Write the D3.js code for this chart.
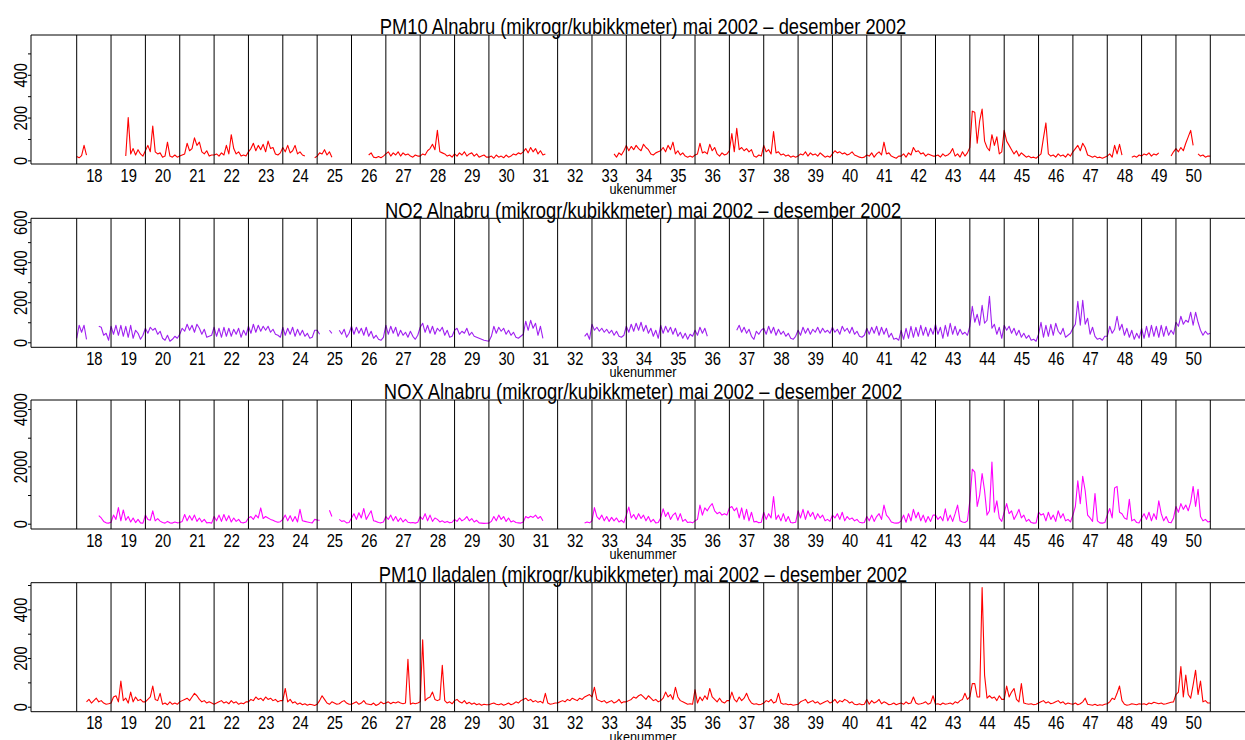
<!DOCTYPE html>
<html>
<head>
<meta charset="utf-8">
<script src="https://cdn.jsdelivr.net/npm/d3@7/dist/d3.min.js"></script>
<style>
  html, body { margin: 0; padding: 0; background: #fff; }
  svg { display: block; }
  text { font-family: "Liberation Sans", Arial, sans-serif; fill: #000; }
</style>
</head>
<body>
<svg id="chart" width="1245" height="740"></svg>
<script>
const _ = null;

// ---- data (two readings per day, 14 per week, starting at week 18) ----
const weekLabels = [18,19,20,21,22,23,24,25,26,27,28,29,30,31,32,33,34,35,36,37,38,39,40,41,42,43,44,45,46,47,48,49,50];
const weekLines = [18,19,20,21,22,23,24,25,26,27,28,29,30,31,32,33,34,35,36,37,38,39,40,41,42,43,44,45,46,47,48,49,50,51];

const titles = [
  "PM10 Alnabru (mikrogr/kubikkmeter) mai 2002 \u2013 desember 2002",
  "NO2 Alnabru (mikrogr/kubikkmeter) mai 2002 \u2013 desember 2002",
  "NOX Alnabru (mikrogr/kubikkmeter) mai 2002 \u2013 desember 2002",
  "PM10 Iladalen (mikrogr/kubikkmeter) mai 2002 \u2013 desember 2002"
];
const xTitle = "ukenummer";

const pm10Ticks = [0,100,200,300,400,500];
const pm10Labels = [0,200,400];
const no2Ticks = [0,100,200,300,400,500,600];
const no2Labels = [0,200,400,600];
const noxTicks = [0,1000,2000,3000,4000];
const noxLabels = [0,2000,4000];

const pm10Alnabru = [
  18,12,22,70,25,_,_,_,_,_,_,_,_,_,          // 18
  _,_,_,_,_,_,20,200,30,55,25,50,30,20,      // 19
  45,70,40,160,40,30,35,15,20,85,20,15,25,15,// 20
  20,25,30,80,45,55,105,70,85,40,30,45,20,25,// 21
  25,30,20,35,25,70,30,120,55,30,40,20,25,20,// 22
  40,55,80,45,70,50,75,40,90,55,60,30,25,35, // 23
  60,40,70,35,45,70,30,40,25,20,_,_,_,12,    // 24
  20,35,30,50,25,40,15,_,_,_,_,_,_,_,        // 25
  _,_,_,_,_,_,_,25,35,15,12,18,12,20,        // 26
  30,40,20,35,25,40,20,35,25,30,20,15,25,20, // 27
  20,30,25,45,55,75,50,140,40,35,30,20,25,15,// 28
  30,20,35,25,40,20,30,35,20,30,15,20,25,15, // 29
  15,20,10,25,15,20,12,25,15,20,30,25,35,30, // 30
  40,55,35,60,40,55,30,45,25,30,_,_,_,_,     // 31
  _,_,_,_,_,_,_,_,_,_,_,_,_,_,               // 32
  _,_,_,_,_,_,_,_,_,30,15,35,25,45,          // 33
  70,45,65,50,70,55,45,75,60,50,30,25,35,40, // 34
  45,60,40,70,50,85,30,45,25,35,20,15,20,15, // 35
  25,30,80,35,40,30,75,45,60,30,20,35,25,30, // 36
  45,125,40,150,50,60,45,55,40,50,20,15,25,20,// 37
  70,40,50,30,135,35,40,25,30,20,25,15,20,15,// 38
  20,30,25,40,20,35,25,30,20,35,25,15,20,15, // 39
  30,45,35,40,30,35,25,30,40,25,20,15,12,15, // 40
  25,20,35,15,30,40,25,85,30,35,20,15,10,20, // 41
  20,30,15,35,25,60,40,45,30,35,20,30,25,20, // 42
  20,25,15,30,20,25,35,55,20,30,15,40,20,35, // 43
  60,230,225,80,185,240,90,60,45,120,70,110,30,40, // 44
  140,90,70,50,30,45,20,35,25,15,20,12,15,10,// 45
  20,30,105,175,30,20,25,15,30,20,25,15,30,20,// 46
  40,55,70,45,80,60,25,20,15,20,12,15,10,15, // 47
  20,30,15,70,30,75,25,_,_,_,15,20,15,25,    // 48
  20,30,25,35,20,30,25,35,_,_,_,_,20,40,     // 49
  55,40,60,45,80,110,140,70,_,30,20,25,15,20,// 50
  20
];

const no2Alnabru = [
  20,85,50,85,15,_,_,_,_,80,75,35,45,10,     // 18
  80,40,85,35,85,30,80,25,85,20,60,45,15,35, // 19
  70,45,75,60,70,40,55,20,10,35,5,15,30,20,  // 20
  40,70,55,90,60,85,50,90,70,40,65,25,30,35, // 21
  75,30,70,25,75,30,70,30,65,40,70,25,60,35, // 22
  80,45,90,50,85,55,80,60,80,50,65,40,35,25, // 23
  75,35,70,40,75,30,65,35,60,30,45,20,25,60, // 24
  60,40,_,_,_,60,45,_,_,60,40,65,25,45,      // 25
  80,40,75,45,70,35,75,30,55,20,35,15,10,25, // 26
  85,40,80,45,75,30,60,35,50,25,55,30,15,35, // 27
  75,95,50,85,45,80,40,70,55,75,35,60,25,30, // 28
  60,70,40,55,45,70,35,50,30,25,20,15,10,8,  // 29
  5,30,80,45,75,55,70,40,60,35,50,25,20,30,  // 30
  40,105,60,110,70,95,35,80,20,_,_,_,_,_,    // 31
  _,_,_,_,_,_,_,_,_,_,_,30,45,15,            // 32
  90,60,75,55,70,50,65,45,60,35,55,30,25,35, // 33
  80,50,90,55,95,60,100,55,85,45,70,30,60,20,// 34
  85,45,80,50,75,40,70,30,50,20,45,15,40,30, // 35
  60,35,75,45,70,30,_,_,_,_,_,_,_,_,         // 36
  _,_,_,60,85,50,75,45,65,30,15,55,40,60,    // 37
  70,40,80,45,75,35,65,40,55,30,45,20,15,30, // 38
  60,35,75,45,70,40,65,50,75,45,70,50,60,45, // 39
  75,50,65,40,80,55,70,45,75,40,55,30,25,35, // 40
  70,40,75,45,80,35,75,40,70,25,45,15,20,10, // 41
  60,15,70,20,80,25,75,30,85,35,75,30,70,40, // 42
  90,40,75,20,85,30,95,40,80,35,65,40,50,35, // 43
  80,180,100,140,85,185,95,110,230,70,90,40,75,20, // 44
  85,60,80,45,70,35,60,25,45,20,35,10,15,5,  // 45
  40,100,25,85,30,90,35,95,55,40,70,25,35,45,// 46
  70,90,205,85,210,90,120,40,75,30,15,20,10,30, // 47
  30,80,45,65,130,60,90,35,70,25,60,15,45,20,// 48
  70,20,80,25,85,30,80,25,85,30,80,35,60,40, // 49
  100,80,130,90,110,100,150,85,150,100,60,35,55,40, // 50
  45
];

const noxAlnabru = [
  _,_,_,_,_,_,_,_,_,280,200,80,30,20,                      // 18
  50,300,150,560,100,480,120,250,60,200,40,150,30,20,      // 19
  300,150,120,450,100,180,90,40,20,80,30,20,60,30,         // 20
  40,80,320,100,280,120,300,80,200,60,150,30,40,20,        // 21
  250,100,300,80,320,100,280,60,200,80,150,40,30,60,       // 22
  200,250,150,300,200,550,180,250,200,150,120,80,50,70,    // 23
  150,300,100,280,80,250,60,500,100,80,60,40,30,150,       // 24
  130,120,_,_,_,470,250,_,_,150,80,100,30,40,              // 25
  200,350,150,380,200,530,150,300,450,100,80,40,30,60,     // 26
  250,150,300,100,250,80,200,60,150,50,30,40,20,50,        // 27
  250,150,350,100,300,80,200,150,60,100,40,80,30,50,       // 28
  150,80,200,100,150,250,100,180,60,120,30,20,10,15,       // 29
  20,80,250,100,300,150,250,80,200,60,100,40,30,20,        // 30
  60,250,200,260,220,300,180,250,100,_,_,_,_,_,            // 31
  _,_,_,_,_,_,_,_,_,_,_,20,60,30,                          // 32
  100,560,250,150,300,100,250,80,220,100,200,60,120,40,    // 33
  300,580,200,320,150,350,180,300,100,250,60,150,30,40,    // 34
  200,520,250,400,150,300,380,120,350,80,150,40,60,30,     // 35
  100,150,650,300,550,450,600,700,450,350,400,300,350,300, // 36
  550,600,450,550,200,550,150,500,100,400,60,80,30,50,     // 37
  400,150,350,200,950,150,300,100,350,80,250,40,30,50,     // 38
  450,200,500,150,450,250,400,150,350,200,300,100,150,80,  // 39
  300,200,350,150,400,100,250,150,200,100,150,50,30,40,    // 40
  250,100,300,80,250,350,150,650,300,200,60,30,20,30,      // 41
  100,300,50,350,100,500,200,400,100,300,50,250,80,300,    // 42
  300,150,250,100,520,100,300,80,350,650,100,60,40,100,    // 43
  800,1900,1800,600,1000,1750,1150,300,450,2150,400,800,200,80, // 44
  400,700,350,450,150,300,500,200,300,80,150,40,20,30,     // 45
  400,300,350,100,400,150,300,80,450,200,350,100,150,60,   // 46
  300,600,1500,700,1650,1150,300,200,80,1050,100,30,20,40, // 47
  300,530,200,1250,1300,400,350,200,150,850,100,150,40,30, // 48
  200,350,150,400,100,350,150,800,350,100,250,50,30,200,   // 49
  600,400,700,500,650,450,750,1300,600,1200,250,100,150,60,// 50
  80
];

const pm10Iladalen = [
  _,_,_,_,20,30,15,25,35,20,25,15,10,12,     // 18
  15,40,45,20,105,25,35,15,60,20,40,25,30,20,// 19
  20,30,40,85,30,25,55,10,15,8,20,10,15,10,  // 20
  20,25,30,35,25,40,55,45,30,20,25,15,20,15, // 21
  10,15,20,25,15,20,12,25,15,20,10,15,12,20, // 22
  20,30,25,40,30,35,25,40,30,35,25,30,20,25, // 23
  25,75,20,30,15,20,10,15,8,12,6,10,8,5,     // 24
  10,25,45,30,15,10,20,15,10,12,20,25,15,10, // 25
  10,15,20,10,15,25,12,10,8,15,5,10,20,12,   // 26
  15,20,12,18,15,20,15,12,15,195,10,15,12,15,// 27
  20,275,25,35,40,60,30,25,30,170,25,15,20,12,// 28
  25,30,20,15,25,12,18,10,15,8,12,6,10,8,    // 29
  8,12,15,10,8,12,6,10,15,8,12,20,15,25,     // 30
  30,35,25,30,20,25,18,22,15,55,15,10,12,15, // 31
  15,20,25,20,30,25,35,30,25,35,30,40,45,50, // 32
  40,80,30,25,20,25,15,20,25,15,20,30,15,20, // 33
  20,25,30,40,35,45,50,40,30,45,35,25,30,20, // 34
  25,35,60,40,50,30,80,40,25,20,15,10,12,10, // 35
  70,15,40,25,45,30,75,40,30,20,35,20,15,25, // 36
  25,60,30,20,40,25,35,55,30,15,10,12,8,10,  // 37
  15,25,20,30,15,20,55,15,10,12,8,10,6,8,    // 38
  10,20,25,30,15,20,25,15,20,10,15,20,25,15, // 39
  20,30,15,25,20,30,25,15,20,10,8,12,8,10,   // 40
  30,10,25,15,20,30,12,20,15,8,10,15,8,12,   // 41
  15,10,20,12,15,40,15,10,12,15,20,10,15,45, // 42
  10,12,8,15,10,12,15,10,20,15,25,30,55,30,  // 43
  40,95,95,40,40,490,130,35,45,35,40,25,45,30, // 44
  30,85,40,60,75,30,20,95,15,12,10,12,8,10,  // 45
  15,20,25,15,20,12,15,20,25,15,20,10,15,12, // 46
  10,15,8,12,20,35,10,8,6,10,5,8,6,10,       // 47
  12,20,35,30,55,85,25,10,6,8,12,10,8,12,    // 48
  10,12,8,15,12,18,15,12,15,10,12,15,18,20,  // 49
  50,60,165,40,130,50,35,90,150,50,105,20,25,15, // 50
  15
];

// ---- layout ----
const W = 1245, H = 740;
const left = 31, right = 1256;
const narrow = 0.82;   // horizontal squeeze to imitate a narrow Helvetica
const panels = [
  { title: titles[0], values: pm10Alnabru, color: "#ff0000", top: 35,    yDomain: [-17, 586],   ticks: pm10Ticks, labels: pm10Labels },
  { title: titles[1], values: no2Alnabru,  color: "#a020f0", top: 218.3, yDomain: [-25, 619],   ticks: no2Ticks,  labels: no2Labels },
  { title: titles[2], values: noxAlnabru,  color: "#ff00ff", top: 400,   yDomain: [-185, 4315], ticks: noxTicks,  labels: noxLabels },
  { title: titles[3], values: pm10Iladalen,color: "#ff0000", top: 582.7, yDomain: [-20.5, 509.5], ticks: pm10Ticks, labels: pm10Labels }
];
const panelH = 129;
const stepsPerWeek = 14;
const firstWeek = 18;

const svg = d3.select("#chart");
svg.append("rect").attr("width", W).attr("height", H).attr("fill", "#fff");

const x = d3.scaleLinear().domain([16.67, 52.33]).range([left, right]);
const centerX = 643;

panels.forEach(p => {
  const top = p.top, bottom = top + panelH;
  const y = d3.scaleLinear().domain(p.yDomain).range([bottom, top]);
  const g = svg.append("g");

  const pts = p.values.map((v, i) => ({ t: firstWeek + i / stepsPerWeek, v }));

  // data line
  g.append("path")
    .datum(pts)
    .attr("fill", "none")
    .attr("stroke", p.color)
    .attr("stroke-width", 1.1)
    .attr("stroke-linejoin", "round")
    .attr("d", d3.line().defined(d => d.v !== null).x(d => x(d.t)).y(d => y(d.v)));

  // week separator lines
  g.selectAll("line.week").data(weekLines).enter().append("line")
    .attr("class", "week")
    .attr("x1", d => x(d)).attr("x2", d => x(d))
    .attr("y1", top).attr("y2", bottom)
    .attr("stroke", "#000").attr("stroke-width", 1);

  // box (open to the right, beyond the window)
  g.append("path")
    .attr("d", `M${right},${top}H${left}V${bottom}H${right}`)
    .attr("fill", "none").attr("stroke", "#000").attr("stroke-width", 1);

  // y axis
  const ya = g.append("g").attr("transform", `translate(${left},0)`)
    .call(d3.axisLeft(y).tickValues(p.ticks).tickSize(3)
      .tickFormat(d => p.labels.includes(d) ? String(d) : ""));
  ya.select(".domain").remove();
  ya.selectAll(".tick line").attr("stroke", "#000");
  ya.selectAll(".tick text")
    .attr("x", null).attr("dy", null)
    .attr("text-anchor", "middle")
    .attr("transform", `translate(-4,0) rotate(-90) scale(${narrow},1)`)
    .style("font-size", "18px")
    .style("font-family", '"Liberation Sans", Arial, sans-serif')
    .attr("fill", "#000");

  // x axis (week numbers centered in each week)
  const xa = g.append("g").attr("transform", `translate(0,${bottom})`)
    .call(d3.axisBottom(x).tickValues(weekLabels.map(w => w + 0.5)).tickSize(0).tickPadding(5)
      .tickFormat(d => String(Math.floor(d))));
  xa.select(".domain").remove();
  xa.selectAll(".tick text")
    .attr("transform", `scale(${narrow},1)`)
    .style("font-size", "18px")
    .style("font-family", '"Liberation Sans", Arial, sans-serif')
    .attr("fill", "#000");

  // title
  g.append("text")
    .attr("transform", `translate(${centerX},${top - 0.7}) scale(${narrow},1)`)
    .attr("text-anchor", "middle")
    .style("font-size", "22.4px")
    .text(p.title);

  // x axis title
  g.append("text")
    .attr("transform", `translate(${centerX},${bottom + 30}) scale(${narrow},1)`)
    .attr("text-anchor", "middle")
    .style("font-size", "15.5px")
    .text(xTitle);
});
</script>
</body>
</html>
